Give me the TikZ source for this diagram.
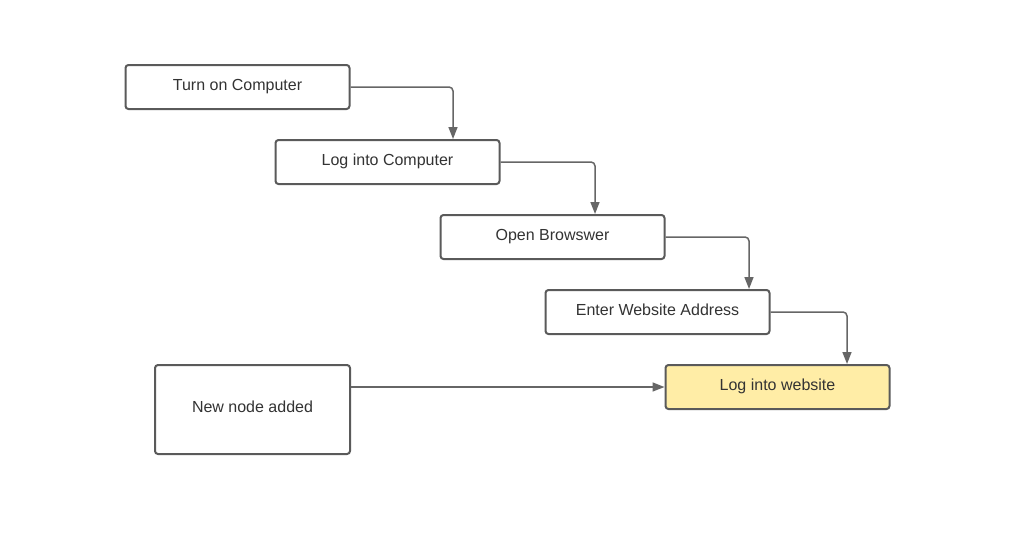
\documentclass[tikz,border=0pt]{standalone}
\usepackage{fontspec}
\setmainfont{Liberation Sans}
\usetikzlibrary{arrows.meta}
\definecolor{boxgray}{HTML}{5A5A5A}
\definecolor{conngray}{HTML}{666666}
\definecolor{textgray}{HTML}{333333}
\definecolor{stepyellow}{HTML}{FFEDA6}
\begin{document}
\begin{tikzpicture}[x=1pt,y=-1pt,
  box/.style={draw=boxgray, line width=2pt, rounded corners=3pt,
    minimum width=224pt, minimum height=44pt, inner sep=0pt,
    font=\fontsize{16}{19}\selectfont, text=textgray,
    text height=10pt, text depth=4pt},
  conn/.style={draw=conngray, line width=1.5pt, rounded corners=4pt,
    -{Triangle[length=12pt,width=9pt]}}]
\useasboundingbox[fill=white] (0,0) rectangle (1019,533);
\node[box] (n1) at (237.5,87) {Turn on Computer};
\node[box] (n2) at (387.5,162) {Log into Computer};
\node[box] (n3) at (552.5,237) {Open Browswer};
\node[box] (n4) at (657.5,312) {Enter Website Address};
\node[box, fill=stepyellow] (n5) at (777.5,387) {Log into website};
\node[box, minimum width=195pt, minimum height=89pt] (n6) at (252.5,409.5) {New node added};
\draw[conn] (n1.east) -| ([xshift=65.5pt]n2.north);
\draw[conn] (n2.east) -| ([xshift=42.5pt]n3.north);
\draw[conn] (n3.east) -| ([xshift=91.5pt]n4.north);
\draw[conn] (n4.east) -| ([xshift=69.5pt]n5.north);
\draw[conn] ([yshift=22.5pt]n6.east) -- (n5.west);
\end{tikzpicture}
\end{document}
